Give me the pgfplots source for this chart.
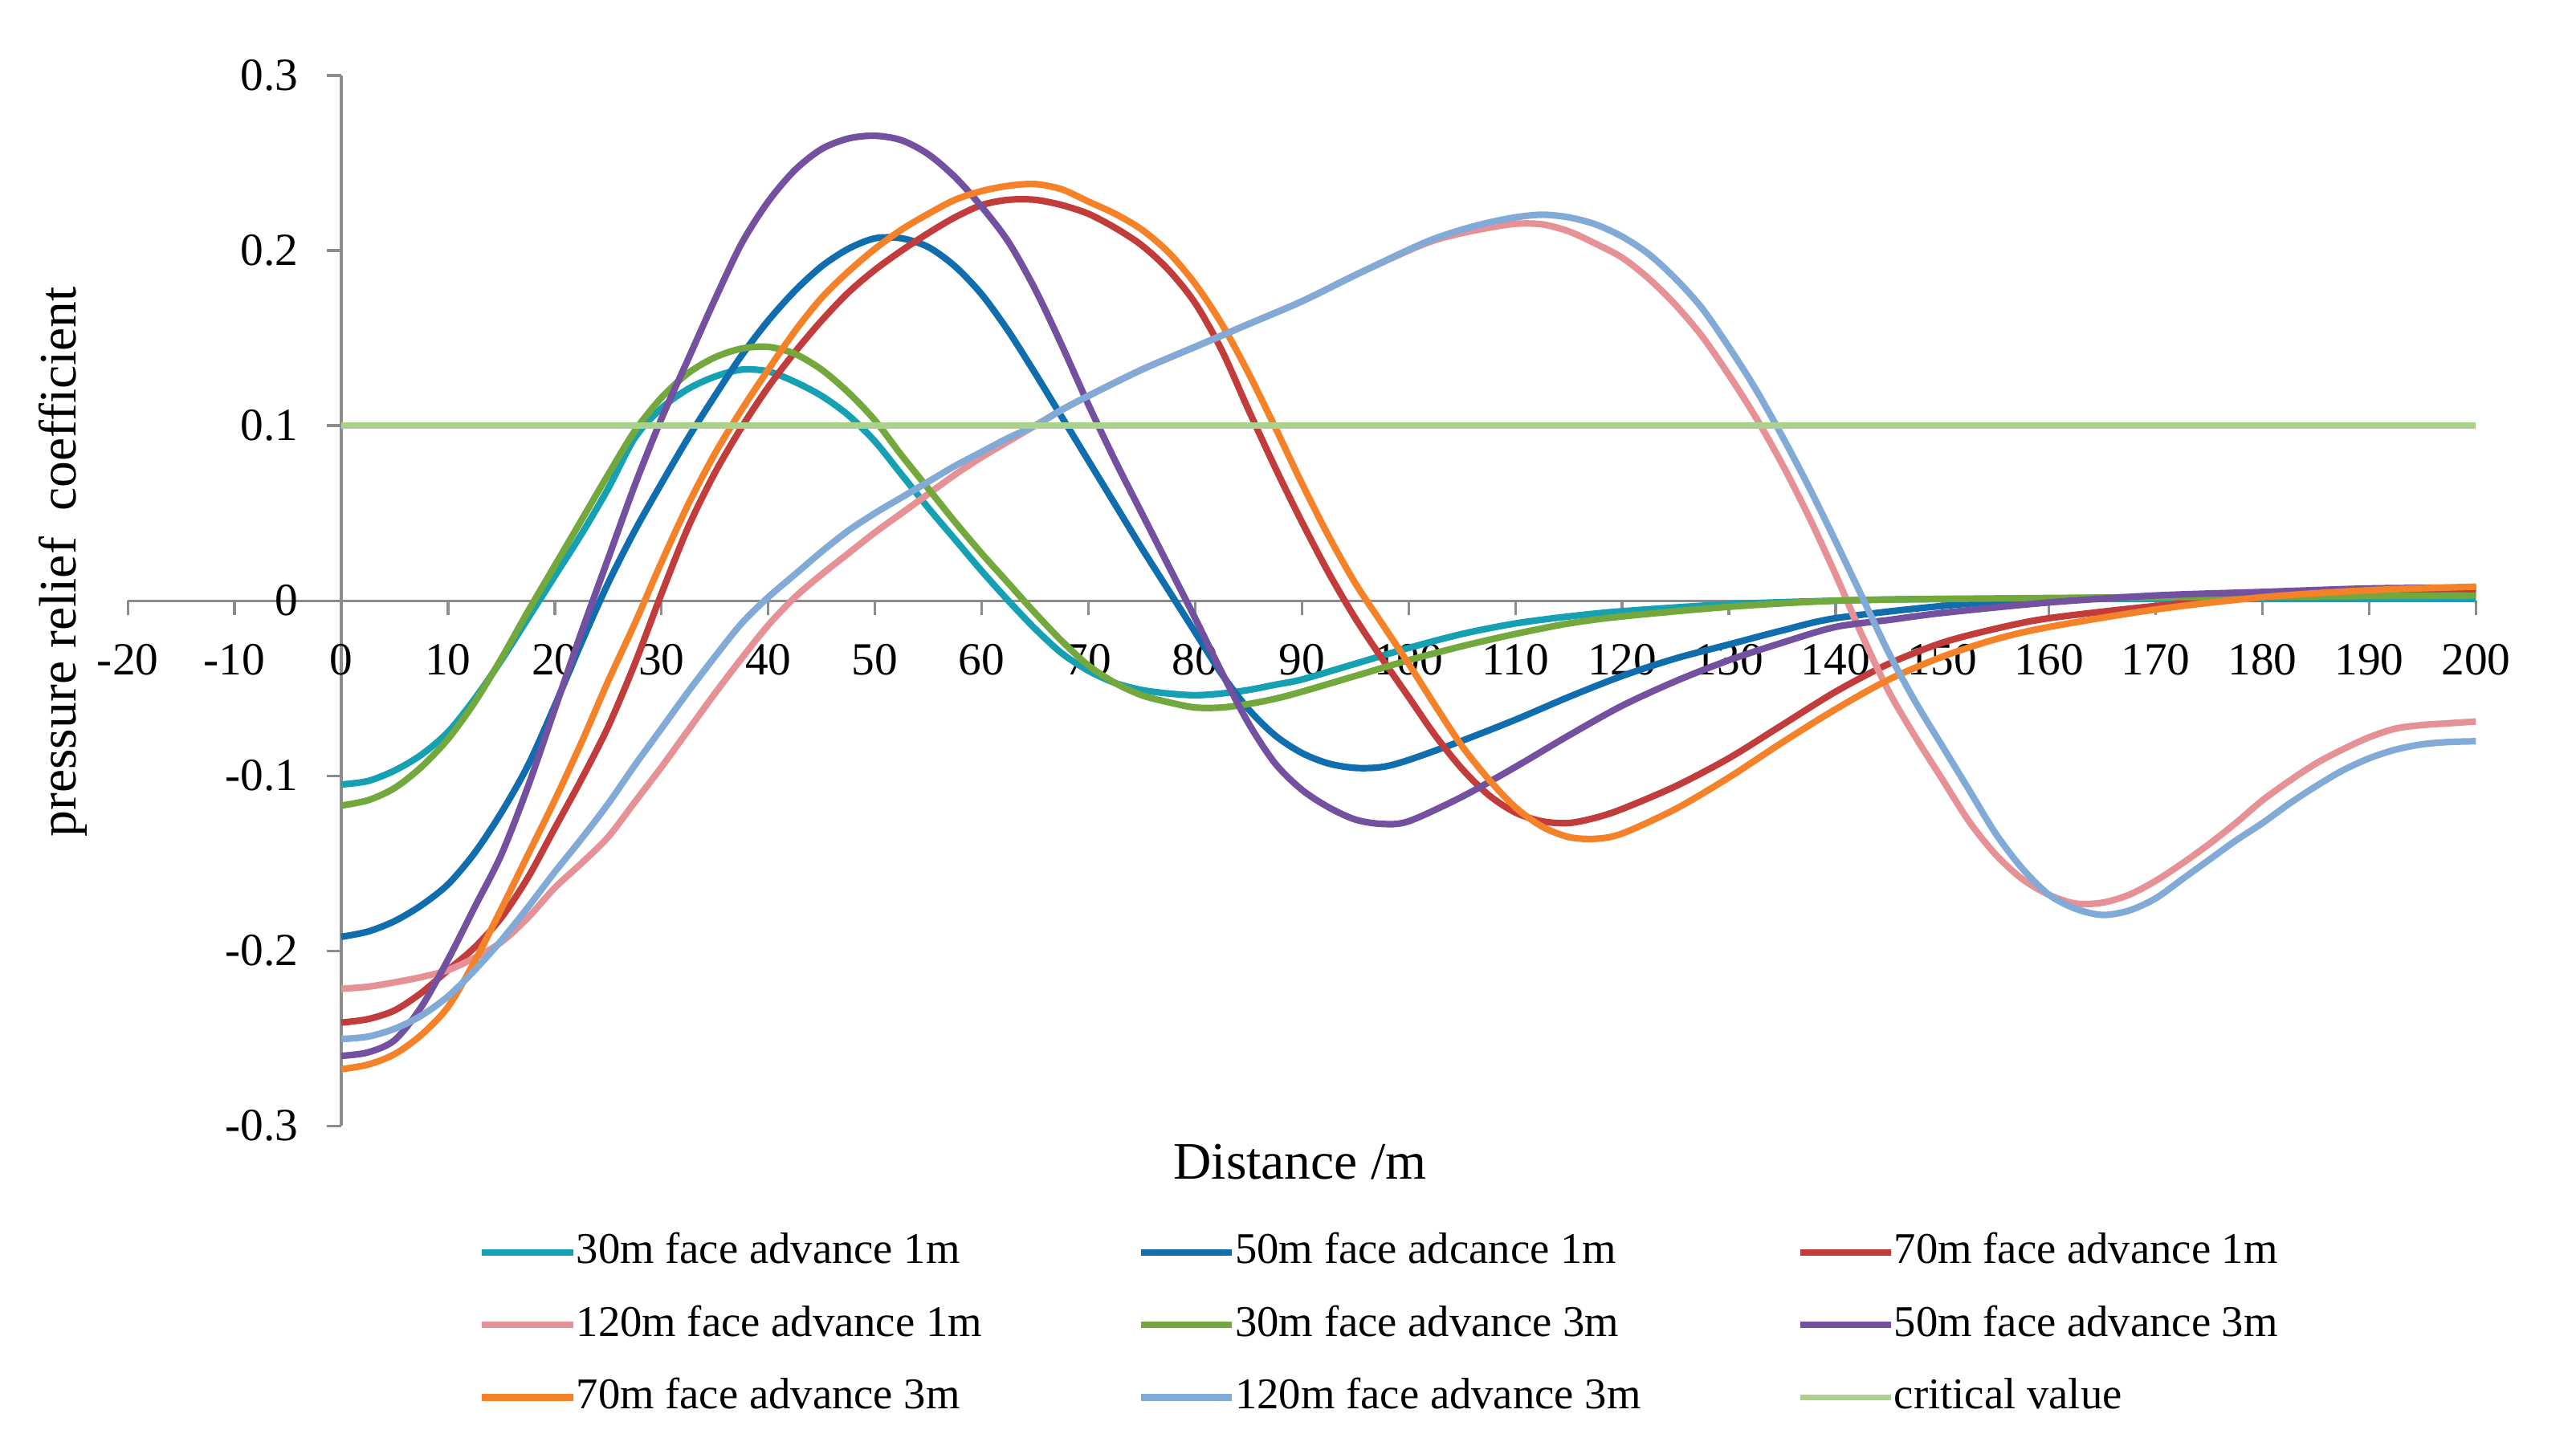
\documentclass[border=0pt]{standalone}
\usepackage{pgfplots}
\pgfplotsset{compat=1.18}
\usepackage{fontspec}
\setmainfont{Liberation Serif}
\definecolor{cTeal}{RGB}{22,160,180}
\definecolor{cBlue}{RGB}{16,110,175}
\definecolor{cRed}{RGB}{195,60,60}
\definecolor{cPink}{RGB}{230,145,150}
\definecolor{cGreen}{RGB}{115,168,60}
\definecolor{cPurple}{RGB}{115,80,160}
\definecolor{cOrange}{RGB}{245,130,40}
\definecolor{cLBlue}{RGB}{130,170,215}
\definecolor{cCrit}{RGB}{170,210,140}
\definecolor{axgray}{RGB}{140,140,140}
\begin{document}
\begin{tikzpicture}
\useasboundingbox (-29.13pt,-71.0pt) rectangle (557.9pt,256.6pt);
\begin{axis}[
  scale only axis, width=535.1pt, height=239.4pt,
  xmin=-20, xmax=200, ymin=-0.3, ymax=0.3,
  axis lines=middle,
  axis line style={draw=axgray, line width=0.6pt, -},
  every inner x axis line/.append style={-},
  every inner y axis line/.append style={-},
  hide obscured x ticks=false, hide obscured y ticks=false,
  xtick={-20,-10,...,200},
  xticklabels={-20,-10,0,10,20,30,40,50,60,70,80,90,100,110,120,130,140,150,160,170,180,190,200},
  ytick={-0.3,-0.2,-0.1,0,0.1,0.2,0.3},
  yticklabels={-0.3,-0.2,-0.1,0,0.1,0.2,0.3},
  tick align=outside, major tick length=3.3pt,
  tick style={draw=axgray, line width=0.6pt},
  minor tick num=0,
  ticklabel style={font=\fontsize{10.5}{12}\selectfont},
  xticklabel style={anchor=north, yshift=-3pt},
  yticklabel style={anchor=east, xshift=-3pt},
  every axis y label/.style={at={(axis description cs:-0.0276,0.537)}, anchor=center, rotate=90},
  every axis x label/.style={at={(axis description cs:0.4992,-0.034)}, anchor=center},
  xlabel={Distance /m},
  ylabel={pressure relief\ \ coefficient},
  label style={font=\fontsize{12}{14}\selectfont},
  legend columns=3,
  legend cell align=left,
  legend image code/.code={\draw[#1] (0pt,0pt) -- (20.7pt,0pt);},
  legend style={at={(axis description cs:0.1495,-0.1896)}, anchor=west,
    draw=none, fill=none, inner sep=0pt, outer sep=0pt,
    font=\fontsize{10}{12}\selectfont, row sep=5.5pt,
    nodes={inner xsep=0pt, inner ysep=1pt, text height=7pt, text depth=2pt},
    /tikz/every even column/.append style={column sep=35.5pt}},
  every axis plot/.append style={line width=1.5pt, smooth},
]
\addplot[cTeal] coordinates {
(0,-0.105)(2.5,-0.103)(5,-0.097)(7.5,-0.088)(10,-0.075)(12.5,-0.056)(15,-0.034)(17.5,-0.010)(20,0.014)(22.5,0.038)(25,0.064)(27.5,0.093)(30,0.110)(32.5,0.121)(35,0.128)(37.5,0.132)(40,0.131)(42.5,0.125)(45,0.117)(47.5,0.106)(50,0.091)(52.5,0.072)(55,0.053)(57.5,0.035)(60,0.017)(62.5,0.000)(65,-0.016)(67.5,-0.030)(70,-0.040)(72.5,-0.047)(75,-0.051)(77.5,-0.053)(80,-0.054)(82.5,-0.053)(85,-0.051)(87.5,-0.048)(90,-0.045)(95,-0.036)(100,-0.027)(105,-0.019)(110,-0.013)(115,-0.009)(120,-0.006)(130,-0.002)(140,0.000)(150,0.001)(170,0.001)(200,0.001)};
\addlegendentry{30m face advance 1m}
\addplot[cBlue] coordinates {
(0,-0.192)(2.5,-0.189)(5,-0.183)(7.5,-0.174)(10,-0.162)(12.5,-0.144)(15,-0.121)(17.5,-0.094)(20,-0.060)(22.5,-0.024)(25,0.010)(27.5,0.040)(30,0.067)(32.5,0.093)(35,0.117)(37.5,0.140)(40,0.160)(42.5,0.177)(45,0.191)(47.5,0.201)(50,0.207)(52.5,0.207)(55,0.202)(57.5,0.191)(60,0.175)(62.5,0.154)(65,0.130)(67.5,0.105)(70,0.080)(72.5,0.055)(75,0.030)(77.5,0.006)(80,-0.018)(82.5,-0.042)(85,-0.062)(87.5,-0.077)(90,-0.087)(92.5,-0.093)(95,-0.0955)(97.5,-0.095)(100,-0.091)(105,-0.080)(110,-0.068)(115,-0.055)(120,-0.043)(125,-0.033)(130,-0.025)(135,-0.017)(140,-0.010)(150,-0.003)(160,0.001)(180,0.003)(200,0.004)};
\addlegendentry{50m face adcance 1m}
\addplot[cRed] coordinates {
(0,-0.241)(2.5,-0.239)(5,-0.234)(7.5,-0.224)(10,-0.211)(12.5,-0.198)(15,-0.181)(17.5,-0.158)(20,-0.130)(22.5,-0.102)(25,-0.072)(27.5,-0.036)(30,0.004)(32.5,0.042)(35,0.073)(37.5,0.099)(40,0.122)(42.5,0.142)(45,0.160)(47.5,0.176)(50,0.189)(52.5,0.200)(55,0.210)(57.5,0.219)(60,0.226)(62.5,0.229)(65,0.229)(67.5,0.226)(70,0.221)(72.5,0.213)(75,0.203)(77.5,0.189)(80,0.170)(82.5,0.143)(85,0.109)(87.5,0.076)(90,0.045)(92.5,0.016)(95,-0.010)(97.5,-0.033)(100,-0.055)(102.5,-0.077)(105,-0.096)(107.5,-0.111)(110,-0.121)(112.5,-0.126)(115,-0.127)(117.5,-0.124)(120,-0.119)(125,-0.106)(130,-0.090)(135,-0.071)(140,-0.052)(145,-0.036)(150,-0.024)(155,-0.016)(160,-0.010)(170,-0.003)(180,0.002)(190,0.005)(200,0.007)};
\addlegendentry{70m face advance 1m}
\addplot[cPink] coordinates {
(0,-0.2217)(2.5,-0.2205)(5,-0.218)(7.5,-0.215)(10,-0.211)(12.5,-0.204)(15,-0.195)(17.5,-0.181)(20,-0.164)(22.5,-0.150)(25,-0.135)(27.5,-0.115)(30,-0.095)(32.5,-0.074)(35,-0.053)(37.5,-0.033)(40,-0.014)(42.5,0.002)(45,0.015)(47.5,0.027)(50,0.039)(52.5,0.050)(55,0.061)(57.5,0.072)(60,0.082)(62.5,0.091)(65,0.100)(67.5,0.109)(70,0.117)(75,0.132)(80,0.145)(85,0.158)(90,0.171)(95,0.186)(100,0.200)(102.5,0.206)(105,0.210)(107.5,0.213)(110,0.2153)(112.5,0.215)(115,0.211)(117.5,0.204)(120,0.196)(122.5,0.184)(125,0.169)(127.5,0.151)(130,0.129)(132.5,0.105)(135,0.078)(137.5,0.048)(140,0.015)(142.5,-0.020)(145,-0.052)(147.5,-0.078)(150,-0.102)(152.5,-0.126)(155,-0.145)(157.5,-0.159)(160,-0.168)(162.5,-0.173)(165,-0.1725)(167.5,-0.168)(170,-0.160)(172.5,-0.150)(175,-0.139)(177.5,-0.127)(180,-0.114)(182.5,-0.103)(185,-0.093)(187.5,-0.085)(190,-0.078)(192.5,-0.073)(195,-0.071)(197.5,-0.070)(200,-0.069)};
\addlegendentry{120m face advance 1m}
\addplot[cGreen] coordinates {
(0,-0.117)(2.5,-0.114)(5,-0.107)(7.5,-0.095)(10,-0.079)(12.5,-0.058)(15,-0.033)(17.5,-0.006)(20,0.020)(22.5,0.046)(25,0.072)(27.5,0.097)(30,0.116)(32.5,0.130)(35,0.139)(37.5,0.144)(40,0.145)(42.5,0.141)(45,0.132)(47.5,0.119)(50,0.103)(52.5,0.083)(55,0.064)(57.5,0.045)(60,0.027)(62.5,0.010)(65,-0.007)(67.5,-0.023)(70,-0.037)(72.5,-0.047)(75,-0.054)(77.5,-0.058)(80,-0.061)(82.5,-0.061)(85,-0.059)(87.5,-0.056)(90,-0.052)(95,-0.043)(100,-0.034)(105,-0.026)(110,-0.019)(115,-0.013)(120,-0.009)(130,-0.0035)(140,0.000)(150,0.001)(170,0.002)(200,0.003)};
\addlegendentry{30m face advance 3m}
\addplot[cPurple] coordinates {
(0,-0.260)(2.5,-0.258)(5,-0.251)(7.5,-0.232)(10,-0.205)(12.5,-0.175)(15,-0.145)(17.5,-0.106)(20,-0.062)(22.5,-0.018)(25,0.024)(27.5,0.066)(30,0.104)(32.5,0.138)(35,0.172)(37.5,0.204)(40,0.228)(42.5,0.246)(45,0.258)(47.5,0.264)(50,0.2656)(52.5,0.263)(55,0.255)(57.5,0.242)(60,0.225)(62.5,0.205)(65,0.178)(67.5,0.146)(70,0.112)(72.5,0.080)(75,0.050)(77.5,0.020)(80,-0.010)(82.5,-0.041)(85,-0.070)(87.5,-0.093)(90,-0.108)(92.5,-0.118)(95,-0.125)(97.5,-0.1275)(100,-0.126)(105,-0.112)(110,-0.095)(115,-0.077)(120,-0.060)(125,-0.046)(130,-0.034)(135,-0.024)(140,-0.015)(145,-0.011)(150,-0.007)(160,-0.001)(170,0.003)(180,0.005)(190,0.007)(200,0.0075)};
\addlegendentry{50m face advance 3m}
\addplot[cOrange] coordinates {
(0,-0.2676)(2.5,-0.265)(5,-0.259)(7.5,-0.248)(10,-0.232)(12.5,-0.206)(15,-0.176)(17.5,-0.145)(20,-0.114)(22.5,-0.081)(25,-0.046)(27.5,-0.013)(30,0.022)(32.5,0.055)(35,0.084)(37.5,0.109)(40,0.132)(42.5,0.154)(45,0.173)(47.5,0.188)(50,0.201)(52.5,0.212)(55,0.221)(57.5,0.229)(60,0.234)(62.5,0.237)(65,0.238)(67.5,0.235)(70,0.228)(72.5,0.221)(75,0.212)(77.5,0.199)(80,0.181)(82.5,0.158)(85,0.130)(87.5,0.099)(90,0.067)(92.5,0.037)(95,0.010)(97.5,-0.013)(100,-0.036)(102.5,-0.060)(105,-0.083)(107.5,-0.102)(110,-0.118)(112.5,-0.129)(115,-0.135)(117.5,-0.136)(120,-0.133)(125,-0.119)(130,-0.101)(135,-0.081)(140,-0.062)(145,-0.045)(150,-0.032)(155,-0.022)(160,-0.015)(170,-0.005)(180,0.002)(190,0.006)(200,0.008)};
\addlegendentry{70m face advance 3m}
\addplot[cLBlue] coordinates {
(0,-0.2504)(2.5,-0.249)(5,-0.2445)(7.5,-0.237)(10,-0.226)(12.5,-0.211)(15,-0.194)(17.5,-0.175)(20,-0.155)(22.5,-0.136)(25,-0.116)(27.5,-0.094)(30,-0.073)(32.5,-0.052)(35,-0.032)(37.5,-0.013)(40,0.002)(42.5,0.015)(45,0.028)(47.5,0.040)(50,0.050)(52.5,0.059)(55,0.068)(57.5,0.077)(60,0.085)(62.5,0.093)(65,0.100)(67.5,0.109)(70,0.117)(75,0.132)(80,0.145)(85,0.158)(90,0.171)(95,0.186)(100,0.2005)(102.5,0.207)(105,0.212)(107.5,0.216)(110,0.219)(112.5,0.2205)(115,0.219)(117.5,0.215)(120,0.208)(122.5,0.198)(125,0.184)(127.5,0.167)(130,0.145)(132.5,0.121)(135,0.094)(137.5,0.065)(140,0.034)(142.5,0.002)(145,-0.030)(147.5,-0.058)(150,-0.083)(152.5,-0.108)(155,-0.133)(157.5,-0.153)(160,-0.168)(162.5,-0.176)(165,-0.1795)(167.5,-0.177)(170,-0.170)(172.5,-0.159)(175,-0.148)(177.5,-0.137)(180,-0.127)(182.5,-0.116)(185,-0.106)(187.5,-0.097)(190,-0.090)(192.5,-0.085)(195,-0.082)(197.5,-0.0807)(200,-0.0803)};
\addlegendentry{120m face advance 3m}
\addplot[cCrit, line width=1.4pt] coordinates {(0,0.1)(200,0.1)};
\addlegendentry{critical value}
\end{axis}
\end{tikzpicture}
\end{document}
